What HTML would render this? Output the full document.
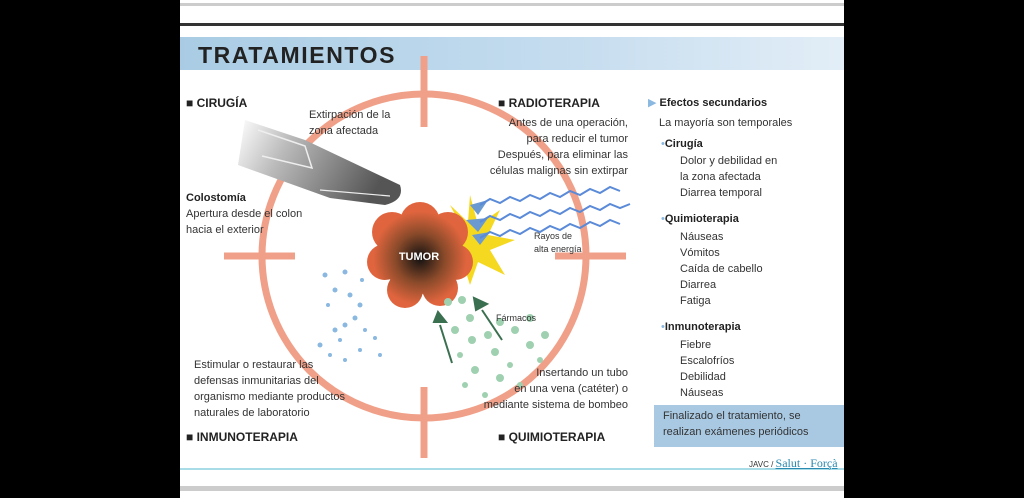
<!DOCTYPE html>
<html><head><meta charset="utf-8"><style>
body{margin:0;width:1024px;height:498px;background:#000;position:relative;overflow:hidden;font-family:"Liberation Sans",sans-serif;}
#p{position:absolute;left:180px;top:0;width:664px;height:498px;background:#fff;overflow:hidden}
.t{position:absolute;font-size:11px;color:#333;line-height:16px;white-space:nowrap}
.h{position:absolute;font-size:12px;font-weight:bold;color:#222;white-space:nowrap}
.b{font-weight:bold;color:#222}
</style></head><body>
<div id="p">
<div style="position:absolute;left:0;top:3px;width:664px;height:3px;background:#ccc"></div>
<div style="position:absolute;left:0;top:23px;width:664px;height:3px;background:#333"></div>
<div style="position:absolute;left:0;top:37px;width:664px;height:33px;background:linear-gradient(90deg,#a9cce4,#c6ddef 60%,#e3eef7)"></div>
<div style="position:absolute;left:18px;top:42px;font-size:23px;font-weight:bold;color:#222;letter-spacing:1.6px">TRATAMIENTOS</div>
<div style="position:absolute;left:0;top:468px;width:664px;height:2px;background:#a8dce6"></div>
<div style="position:absolute;left:0;top:486px;width:664px;height:5px;background:#ccc"></div>
</div>
<svg style="position:absolute;left:0;top:0" width="1024" height="498">
<defs><radialGradient id="tg" gradientUnits="userSpaceOnUse" cx="420" cy="258" r="55"><stop offset="0" stop-color="#111"/><stop offset="0.45" stop-color="#8a4a2a"/><stop offset="0.85" stop-color="#e0653e"/><stop offset="1" stop-color="#e0653e"/></radialGradient>
<linearGradient id="kg" x1="0" x2="1" y1="0" y2="0.3"><stop offset="0" stop-color="#fff"/><stop offset="0.35" stop-color="#bbb"/><stop offset="1" stop-color="#555"/></linearGradient></defs>
<g stroke="#f0a088" stroke-width="7" fill="none">
<circle cx="424" cy="256" r="162"/>
<line x1="424" y1="56" x2="424" y2="127"/><line x1="424" y1="387" x2="424" y2="458"/>
<line x1="224" y1="256" x2="295" y2="256"/><line x1="555" y1="256" x2="626" y2="256"/>
</g>
<path d="M245 120 L305 140 L400 185 Q405 200 385 205 L330 198 L238 165 Z" fill="url(#kg)"/>
<path d="M258 130 L305 146 L312 168 L262 156" fill="none" stroke="#eee" stroke-width="1.5"/>
<path d="M320 190 L390 196" stroke="#eee" stroke-width="1.2"/>
<g fill="#f5d820"><polygon points="470,195 478,225 500,210 488,235 515,240 490,250 505,275 478,262 470,285 462,260 445,270 455,245 440,230 462,228 450,205 468,222"/></g>
<g fill="#6a9ad0"><polygon points="470,205 488,200 478,215"/><polygon points="466,220 488,218 478,232"/><polygon points="472,235 490,232 480,245"/></g>
<g stroke="#5a8ad8" stroke-width="2" fill="none">
<path d="M480 205 l10 -6 l10 4 l10 -6 l10 4 l10 -6 l10 4 l10 -6 l10 4 l10 -6 l10 4 l10 -6 l10 4 l10 -6 l10 4"/>
<path d="M480 222 l10 -6 l10 4 l10 -6 l10 4 l10 -6 l10 4 l10 -6 l10 4 l10 -6 l10 4 l10 -6 l10 4 l10 -6 l10 4 l10 -4"/>
<path d="M480 238 l10 -6 l10 4 l10 -6 l10 4 l10 -6 l10 4 l10 -6 l10 4 l10 -6 l10 4 l10 -6 l10 4 l10 -6 l10 4"/>
</g>
<g fill="url(#tg)"><circle cx="420" cy="256" r="38"/><circle cx="392" cy="232" r="20"/><circle cx="420" cy="222" r="20"/><circle cx="448" cy="232" r="20"/><circle cx="455" cy="262" r="18"/><circle cx="440" cy="288" r="18"/><circle cx="405" cy="290" r="18"/><circle cx="385" cy="262" r="18"/></g>
<text x="419" y="260" font-family="Liberation Sans" font-size="11" font-weight="bold" fill="#fff" text-anchor="middle">TUMOR</text>
<g fill="#8ab8e0">
<circle cx="325" cy="275" r="2.5"/><circle cx="345" cy="272" r="2.5"/><circle cx="335" cy="290" r="2.5"/><circle cx="350" cy="295" r="2.5"/><circle cx="360" cy="305" r="2.5"/><circle cx="355" cy="318" r="2.5"/><circle cx="345" cy="325" r="2.5"/><circle cx="335" cy="330" r="2.5"/><circle cx="365" cy="330" r="2"/><circle cx="320" cy="345" r="2.5"/><circle cx="340" cy="340" r="2"/><circle cx="375" cy="338" r="2"/><circle cx="360" cy="350" r="2"/><circle cx="380" cy="355" r="2"/><circle cx="330" cy="355" r="2"/><circle cx="345" cy="360" r="2"/><circle cx="328" cy="305" r="2"/><circle cx="362" cy="280" r="2"/></g>
<g fill="#9fd0b0">
<circle cx="448" cy="302" r="4"/><circle cx="462" cy="300" r="4"/><circle cx="470" cy="318" r="4"/><circle cx="455" cy="330" r="4"/><circle cx="472" cy="340" r="4"/><circle cx="488" cy="335" r="4"/><circle cx="500" cy="322" r="4"/><circle cx="495" cy="352" r="4"/><circle cx="515" cy="330" r="4"/><circle cx="530" cy="345" r="4"/><circle cx="530" cy="318" r="4"/><circle cx="545" cy="335" r="4"/><circle cx="475" cy="370" r="4"/><circle cx="500" cy="378" r="4"/><circle cx="465" cy="385" r="3"/><circle cx="485" cy="395" r="3"/><circle cx="510" cy="365" r="3"/><circle cx="540" cy="360" r="3"/><circle cx="460" cy="355" r="3"/><circle cx="520" cy="385" r="3"/></g>
<g stroke="#3a7050" stroke-width="2" fill="#3a7050">
<line x1="452" y1="363" x2="440" y2="325"/><polygon points="434,322 446,322 438,312"/>
<line x1="502" y1="340" x2="482" y2="310"/><polygon points="476,310 487,304 474,298"/>
</g>
</svg>
<div class="h" style="left:186px;top:96px">■ CIRUGÍA</div>
<div class="h" style="left:498px;top:96px">■ RADIOTERAPIA</div>
<div class="h" style="left:186px;top:430px">■ INMUNOTERAPIA</div>
<div class="h" style="left:498px;top:430px">■ QUIMIOTERAPIA</div>
<div class="t" style="left:309px;top:107px">Extirpación de la<br>zona afectada</div>
<div class="t" style="left:186px;top:190px"><span class="b">Colostomía</span><br>Apertura desde el colon<br>hacia el exterior</div>
<div class="t" style="left:460px;top:115px;text-align:right;width:168px">Antes de una operación,<br>para reducir el tumor<br>Después, para eliminar las<br>células malignas sin extirpar</div>
<div class="t" style="left:534px;top:230px;font-size:9px;line-height:13px">Rayos de<br>alta energía</div>
<div class="t" style="left:496px;top:310px;font-size:9px">Fármacos</div>
<div class="t" style="left:194px;top:357px">Estimular o restaurar las<br>defensas inmunitarias del<br>organismo mediante productos<br>naturales de laboratorio</div>
<div class="t" style="left:440px;top:365px;text-align:right;width:188px">Insertando un tubo<br>en una vena (catéter) o<br>mediante sistema de bombeo</div>
<div class="t" style="left:648px;top:95px"><span style="color:#8ab8e0">▶</span> <span class="b">Efectos secundarios</span></div>
<div class="t" style="left:659px;top:115px">La mayoría son temporales</div>
<div class="t" style="left:661px;top:136px"><span style="color:#8ab8e0">•</span><span class="b">Cirugía</span></div>
<div class="t" style="left:680px;top:153px">Dolor y debilidad en<br>la zona afectada<br>Diarrea temporal</div>
<div class="t" style="left:661px;top:211px"><span style="color:#8ab8e0">•</span><span class="b">Quimioterapia</span></div>
<div class="t" style="left:680px;top:229px">Náuseas<br>Vómitos<br>Caída de cabello<br>Diarrea<br>Fatiga</div>
<div class="t" style="left:661px;top:319px"><span style="color:#8ab8e0">•</span><span class="b">Inmunoterapia</span></div>
<div class="t" style="left:680px;top:337px">Fiebre<br>Escalofríos<br>Debilidad<br>Náuseas</div>
<div style="position:absolute;left:654px;top:405px;width:190px;height:42px;background:#a9c9e3"></div>
<div class="t" style="left:663px;top:408px">Finalizado el tratamiento, se<br>realizan exámenes periódicos</div>
<div class="t" style="left:749px;top:455px;font-size:8px">JAVC / <span style="font-family:'Liberation Serif',serif;font-size:12px;color:#2a8ab0;text-decoration:underline">Salut · Forçà</span></div>
</body></html>
